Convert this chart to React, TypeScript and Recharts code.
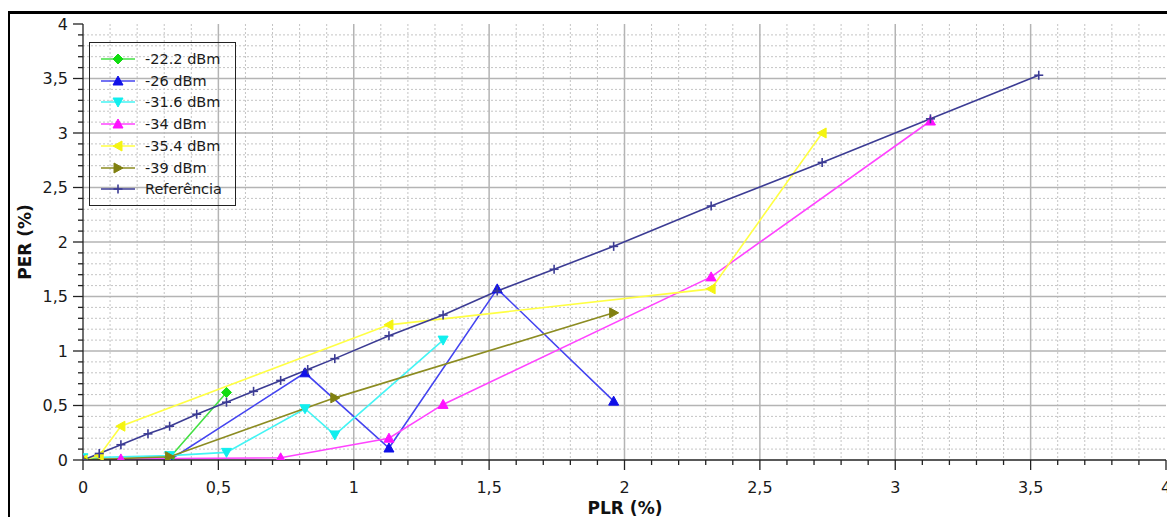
import React from 'react';
import { LineChart, Line, XAxis, YAxis, CartesianGrid } from 'recharts';

// ---- data ----
const majorTicks = [0, 0.5, 1, 1.5, 2, 2.5, 3, 3.5, 4];
const allTicks = Array.from({ length: 41 }, (_, i) => Math.round(i) / 10);
const minorTicks = allTicks.filter((v) => !majorTicks.includes(v));
const innerMajor = [0.5, 1, 1.5, 2, 2.5, 3, 3.5];

const greenX = [0, 0.32, 0.53];
const greenY = [0.01, 0.02, 0.62];

const blueX = [0, 0.32, 0.82, 1.13, 1.53, 1.96];
const blueY = [0, 0, 0.8, 0.11, 1.57, 0.54];

const cyanX = [0, 0.32, 0.53, 0.82, 0.93, 1.33];
const cyanY = [0.02, 0.04, 0.07, 0.47, 0.23, 1.1];

const magentaX = [0, 0.14, 0.73, 1.13, 1.33, 2.32, 3.13];
const magentaY = [0, 0.01, 0.02, 0.2, 0.51, 1.68, 3.11];

const yellowX = [0, 0.06, 0.14, 1.13, 2.32, 2.73];
const yellowY = [0, 0.04, 0.31, 1.24, 1.57, 3.0];

const oliveX = [0, 0.32, 0.93, 1.96];
const oliveY = [0, 0.03, 0.57, 1.35];

const refX = [0, 0.06, 0.14, 0.24, 0.32, 0.42, 0.53, 0.63, 0.73, 0.83, 0.93, 1.13, 1.33, 1.53, 1.74, 1.96, 2.32, 2.73, 3.13, 3.53];
const refY = [0, 0.06, 0.14, 0.24, 0.31, 0.42, 0.53, 0.63, 0.73, 0.83, 0.93, 1.14, 1.33, 1.55, 1.75, 1.96, 2.33, 2.73, 3.13, 3.53];

const seriesNames = ['-22.2 dBm', '-26 dBm', '-31.6 dBm', '-34 dBm', '-35.4 dBm', '-39 dBm', 'Referência'];

const zip = (xs: number[], ys: number[]) => xs.map((x, i) => ({ x, y: ys[i] }));

const series = [
  { name: seriesNames[0], data: zip(greenX, greenY), line: '#44e044', fill: '#11dd11', shape: 'diamond' },
  { name: seriesNames[1], data: zip(blueX, blueY), line: '#4444f0', fill: '#1010e8', shape: 'up' },
  { name: seriesNames[2], data: zip(cyanX, cyanY), line: '#44f4f4', fill: '#11eeee', shape: 'down' },
  { name: seriesNames[3], data: zip(magentaX, magentaY), line: '#ff44ff', fill: '#ff11ff', shape: 'up' },
  { name: seriesNames[4], data: zip(yellowX, yellowY), line: '#ffff44', fill: '#f4f411', shape: 'left' },
  { name: seriesNames[5], data: zip(oliveX, oliveY), line: '#8c8c22', fill: '#808010', shape: 'right' },
  { name: seriesNames[6], data: zip(refX, refY), line: '#3c3c94', fill: '#3c3c94', shape: 'plus' },
];

const FONT = '"DejaVu Sans", Verdana, sans-serif';
const fmt = (v: number) => String(v).replace('.', ',');
const isMajor = (v: number) => Math.abs(v * 2 - Math.round(v * 2)) < 1e-6;

function Marker({ cx, cy, shape, color }: { cx: number; cy: number; shape: string; color: string }) {
  const s = 5;
  if (shape === 'diamond')
    return <polygon points={`${cx},${cy - s} ${cx + s},${cy} ${cx},${cy + s} ${cx - s},${cy}`} fill={color} stroke={color} />;
  if (shape === 'up')
    return <polygon points={`${cx},${cy - s} ${cx + s},${cy + s * 0.8} ${cx - s},${cy + s * 0.8}`} fill={color} stroke={color} />;
  if (shape === 'down')
    return <polygon points={`${cx},${cy + s} ${cx + s},${cy - s * 0.8} ${cx - s},${cy - s * 0.8}`} fill={color} stroke={color} />;
  if (shape === 'left')
    return <polygon points={`${cx - s},${cy} ${cx + s * 0.8},${cy - s} ${cx + s * 0.8},${cy + s}`} fill={color} stroke={color} />;
  if (shape === 'right')
    return <polygon points={`${cx + s},${cy} ${cx - s * 0.8},${cy - s} ${cx - s * 0.8},${cy + s}`} fill={color} stroke={color} />;
  return (
    <g stroke={color} strokeWidth={1.6}>
      <line x1={cx - 4.5} x2={cx + 4.5} y1={cy} y2={cy} />
      <line x1={cx} x2={cx} y1={cy - 4.5} y2={cy + 4.5} />
    </g>
  );
}

function XTick(props: any) {
  const { x, y, payload } = props;
  const v = payload.value as number;
  const major = isMajor(v);
  return (
    <g>
      <line x1={x} x2={x} y1={y} y2={y + (major ? 10 : 5)} stroke="#222" strokeWidth={1.3} />
      {major && (
        <text x={x} y={y + 27} textAnchor="middle" dominantBaseline="central" fontFamily={FONT} fontSize={16} fill="#1a1a1a">
          {fmt(v)}
        </text>
      )}
    </g>
  );
}

function YTick(props: any) {
  const { x, y, payload } = props;
  const v = payload.value as number;
  const major = isMajor(v);
  return (
    <g>
      <line x1={x} x2={x - (major ? 10 : 5)} y1={y} y2={y} stroke="#222" strokeWidth={1.3} />
      {major && (
        <text x={x - 15} y={y} textAnchor="end" dominantBaseline="central" fontFamily={FONT} fontSize={16} fill="#1a1a1a">
          {fmt(v)}
        </text>
      )}
    </g>
  );
}

function LegendBox() {
  return (
    <div
      style={{
        position: 'absolute',
        left: 89,
        top: 42,
        width: 145,
        height: 162,
        border: '1.5px solid #222',
        background: 'transparent',
      }}
    >
      {series.map((s, i) => (
        <div key={s.name} style={{ position: 'absolute', left: 0, top: 6 + i * 21.7, height: 20, width: 145 }}>
          <svg width={40} height={20} style={{ position: 'absolute', left: 9, top: 0 }}>
            <line x1={2} x2={36} y1={10} y2={10} stroke={s.line} strokeWidth={1.6} />
            <Marker cx={19} cy={10} shape={s.shape} color={s.fill} />
          </svg>
          <span
            style={{
              position: 'absolute',
              left: 55,
              top: 0,
              lineHeight: '20px',
              fontFamily: FONT,
              fontSize: 14.5,
              color: '#1a1a1a',
              whiteSpace: 'nowrap',
            }}
          >
            {s.name}
          </span>
        </div>
      ))}
    </div>
  );
}

export default function App() {
  return (
    <div style={{ position: 'absolute', left: 0, top: 0, width: 1167, height: 517, background: '#fff', overflow: 'hidden' }}>
      <div style={{ position: 'absolute', left: 8, top: 11, width: 1159, height: 3, background: '#000' }} />
      <div style={{ position: 'absolute', left: 8, top: 11, width: 2, height: 506, background: '#000' }} />
      <div style={{ position: 'absolute', left: 0, top: 0 }}>
        <LineChart width={1167} height={517} margin={{ top: 24, right: 1, bottom: 0, left: 0 }}>
          <CartesianGrid
            stroke="#c4c4c4"
            strokeDasharray="2 2"
            verticalValues={minorTicks}
            horizontalValues={minorTicks}
          />
          <CartesianGrid stroke="#b4b4b4" strokeWidth={1.5} verticalValues={innerMajor} horizontalValues={innerMajor} />
          <XAxis
            dataKey="x"
            type="number"
            domain={[0, 4]}
            ticks={allTicks}
            interval={0}
            allowDataOverflow
            height={57}
            tickSize={0}
            tickMargin={0}
            tickLine={false}
            tick={<XTick />}
            axisLine={{ stroke: '#222', strokeWidth: 1.3 }}
          />
          <YAxis
            dataKey="y"
            type="number"
            domain={[0, 4]}
            ticks={allTicks}
            interval={0}
            allowDataOverflow
            width={83}
            tickSize={0}
            tickMargin={0}
            tickLine={false}
            tick={<YTick />}
            axisLine={{ stroke: '#222', strokeWidth: 1.3 }}
          />
          {series.map((s) => (
            <Line
              key={s.name}
              data={s.data}
              dataKey="y"
              name={s.name}
              type="linear"
              stroke={s.line}
              strokeWidth={1.6}
              isAnimationActive={false}
              activeDot={false}
              dot={(p: any) => <Marker key={`${s.name}-${p.index}`} cx={p.cx} cy={p.cy} shape={s.shape} color={s.fill} />}
            />
          ))}
        </LineChart>
      </div>
      <LegendBox />
      <div
        style={{
          position: 'absolute',
          left: 25,
          top: 242,
          transform: 'translate(-50%, -50%) rotate(-90deg)',
          fontFamily: FONT,
          fontWeight: 'bold',
          fontSize: 17,
          color: '#111',
          whiteSpace: 'nowrap',
        }}
      >
        PER (%)
      </div>
      <div
        style={{
          position: 'absolute',
          left: 625,
          top: 508,
          transform: 'translate(-50%, -50%)',
          fontFamily: FONT,
          fontWeight: 'bold',
          fontSize: 17,
          color: '#111',
          whiteSpace: 'nowrap',
        }}
      >
        PLR (%)
      </div>
    </div>
  );
}
